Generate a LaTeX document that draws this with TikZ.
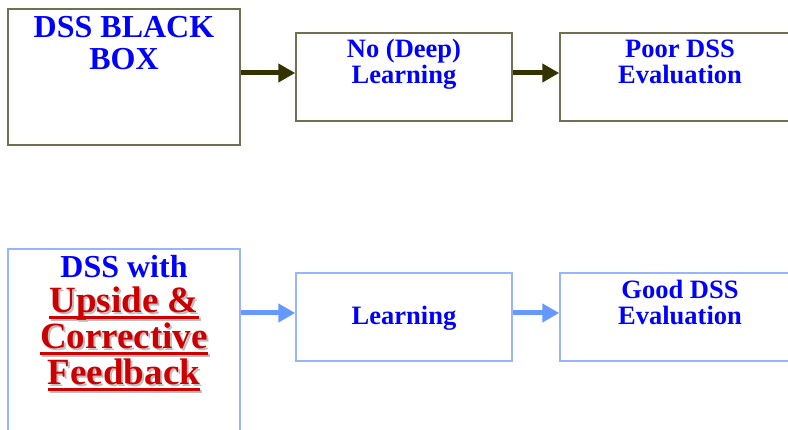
\documentclass[tikz,border=0pt]{standalone}
\usepackage{fontspec}
\setmainfont{Liberation Serif}
\usetikzlibrary{arrows.meta, positioning}
\usepackage{xcolor}
\definecolor{oldcolor}{RGB}{112,112,80}
\definecolor{oldarrow}{RGB}{51,51,0}
\definecolor{newcolor}{RGB}{153,180,255}
\definecolor{newarrow}{RGB}{102,153,255}
\definecolor{titleblue}{RGB}{0,0,255}
\definecolor{fbred}{RGB}{204,0,0}
\definecolor{fbshade}{RGB}{190,190,190}

% underlined words of the feedback box
\newsavebox{\fbbox}
\newcommand{\fbline}[1]{\sbox{\fbbox}{#1}\rlap{\rule[-7pt]{\wd\fbbox}{3pt}}\usebox{\fbbox}}
\newcommand{\fbwords}{\fbline{Upside \&}\\\fbline{Corrective}\\\fbline{Feedback}}

\begin{document}
\begin{tikzpicture}[x=1pt, y=-1pt, >=Stealth,
    box/.style={rectangle, line width=1.5pt, fill=white, inner sep=0pt},
    oldbox/.style={box, draw=oldcolor}, newbox/.style={box, draw=newcolor},
    big/.style={font=\bfseries\fontsize{32}{32}\selectfont, text=titleblue, align=center, inner sep=0pt, anchor=base},
    small/.style={font=\bfseries\fontsize{26.5}{26}\selectfont, text=titleblue, align=center, inner sep=0pt, anchor=base},
    fb/.style={font=\bfseries\fontsize{37}{36}\selectfont, text=fbred, align=center, inner sep=0pt, anchor=base},
    oldarr/.style={-{Triangle[length=17pt, width=18pt]}, line width=5pt, color=oldarrow},
    newarr/.style={-{Triangle[length=17pt, width=18pt]}, line width=5pt, color=newarrow}]
    \useasboundingbox (0,0) rectangle (788,430);
    \clip (0,0) rectangle (788,430);

    % top row: no feedback
    \node[oldbox, minimum width=232pt, minimum height=136pt] (a1) at (124,77) {};
    \node[oldbox, minimum width=216pt, minimum height=88pt] (a2) at (404,77) {};
    \node[oldbox, minimum width=240pt, minimum height=88pt] (a3) at (680,77) {};

    % base of a text block is its last line
    \node[big] (a1text) at ([yshift=-61pt]a1.north) {DSS BLACK\\BOX};
    \node[small] (a2text) at ([yshift=-51pt]a2.north) {No (Deep)\\Learning};
    \node[small] (a3text) at ([yshift=-51pt]a3.north) {Poor DSS\\Evaluation};

    \draw[oldarr] ([yshift=4pt]a1.east) -- ([yshift=4pt]a2.west);
    \draw[oldarr] ([yshift=4pt]a2.east) -- ([yshift=4pt]a3.west);

    % bottom row: with feedback
    \node[newbox, minimum width=232pt, minimum height=200pt] (b1) at (124,349) {};
    \node[newbox, minimum width=216pt, minimum height=88pt] (b2) at (404,317) {};
    \node[newbox, minimum width=240pt, minimum height=88pt] (b3) at (680,317) {};

    \node[big] (b1text) at ([yshift=-29pt]b1.north) {DSS with};
    \coordinate (fbbase) at ([yshift=-107pt]b1text.base);
    \node[fb, text=fbshade] (fbshadow) at ([shift={(2pt,-2pt)}]fbbase) {\fbwords};
    \node[fb] (fbtext) at (fbbase) {\fbwords};
    \node[small] (b2text) at ([yshift=-52pt]b2.north) {Learning};
    \node[small] (b3text) at ([yshift=-52pt]b3.north) {Good DSS\\Evaluation};

    \draw[newarr] ([yshift=4pt]b2.west -| b1.east) -- ([yshift=4pt]b2.west);
    \draw[newarr] ([yshift=4pt]b2.east) -- ([yshift=4pt]b3.west);
\end{tikzpicture}
\end{document}
